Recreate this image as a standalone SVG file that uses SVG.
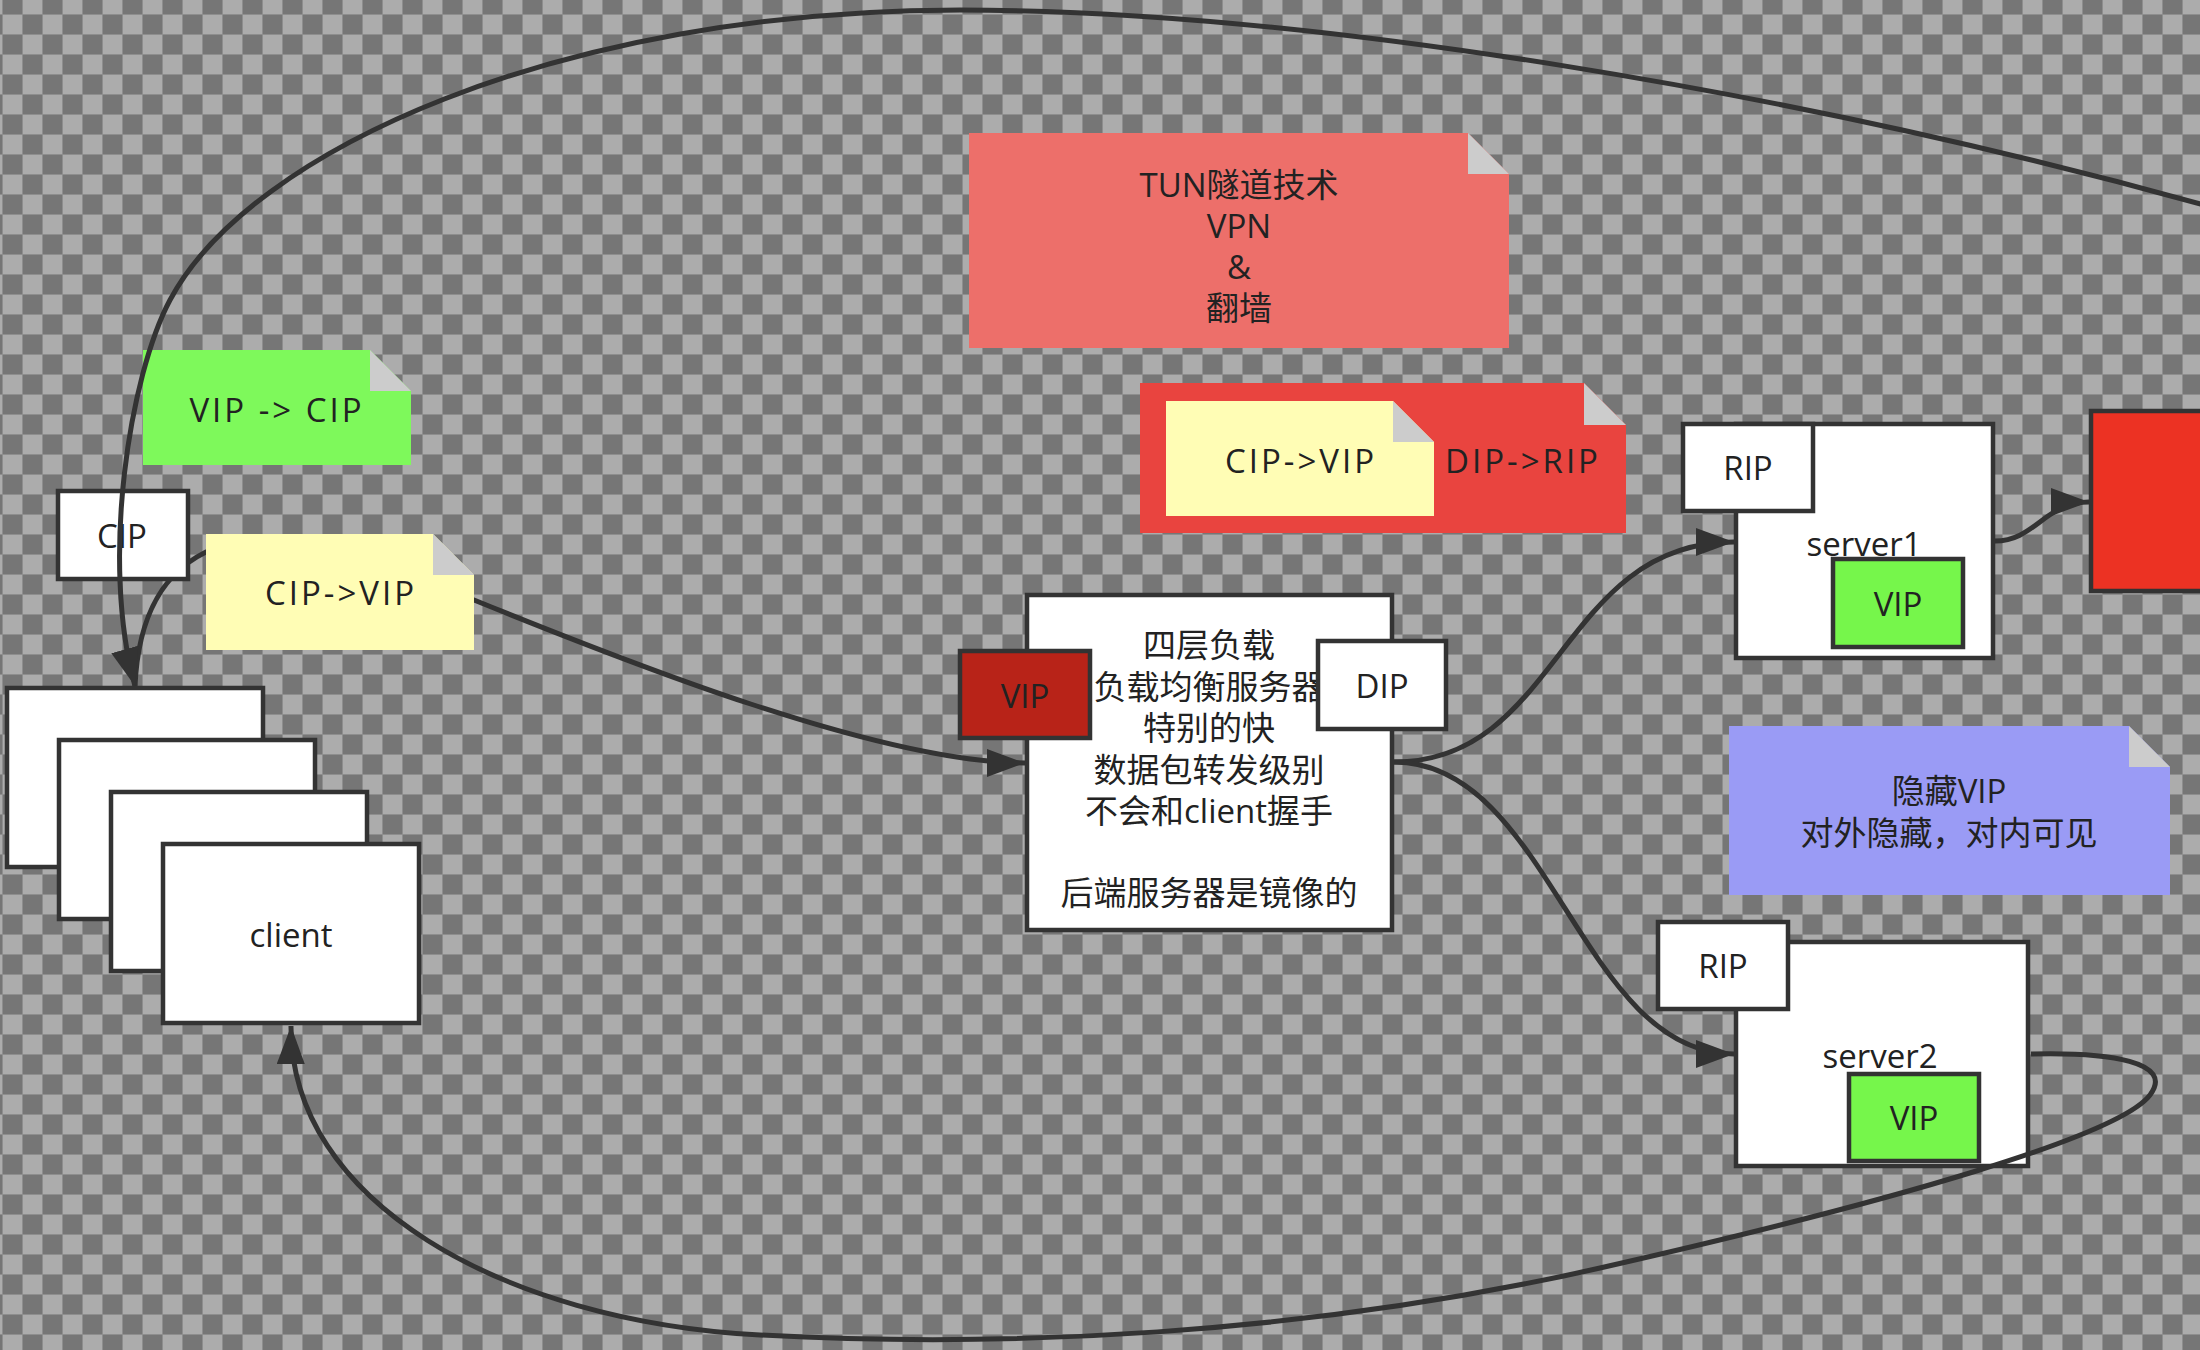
<svg xmlns="http://www.w3.org/2000/svg" width="2200" height="1350" viewBox="0 0 2200 1350">
<defs>
<pattern id="checker" patternUnits="userSpaceOnUse" x="2" y="-6" width="40" height="40">
<rect width="40" height="40" fill="#acacac"/>
<rect width="20" height="20" fill="#767676"/>
<rect x="20" y="20" width="20" height="20" fill="#767676"/>
<path d="M0,0.5 H40 M0,20.5 H40 M0.5,0 V40 M20.5,0 V40" stroke="#8e8e8e" stroke-width="1" fill="none"/>
</pattern>
<marker id="arrow" markerUnits="userSpaceOnUse" markerWidth="40" markerHeight="30" refX="38" refY="14" orient="auto">
<path d="M0,0 L38,14 L0,28 Z" fill="#333"/>
</marker>
<mask id="hideUnder" maskUnits="userSpaceOnUse" x="0" y="0" width="2200" height="1350">
<rect x="0" y="0" width="2200" height="1350" fill="#fff"/>
<rect x="56" y="489" width="134" height="92" fill="#000"/>
<rect x="206" y="534" width="268" height="116" fill="#000"/>
</mask>
<style>
.box{fill:#fff;stroke:#333;stroke-width:4.5}
.t{font-family:"Open Sans","Noto Sans CJK SC",sans-serif;font-size:33px;fill:#222;text-anchor:middle;dominant-baseline:central}
.sp{letter-spacing:3px}
.fold{fill:#cccccc}
.edge{fill:none;stroke:#333;stroke-width:5}
</style>
</defs>
<rect x="0" y="0" width="2200" height="1350" fill="url(#checker)"/>

<g id="client">
<rect class="box" x="7" y="688" width="256" height="179"/>
<rect class="box" x="59" y="740" width="256" height="179"/>
<rect class="box" x="111" y="792" width="256" height="179"/>
<rect class="box" x="163" y="844" width="256" height="179"/>
<text class="t" x="291" y="934">client</text>
</g>

<g id="cip">
<rect class="box" x="58" y="491" width="130" height="88"/>
<text class="t" x="122" y="535">CIP</text>
</g>

<g id="note-vip-cip">
<polygon points="143,350 370,350 411,391 411,465 143,465" fill="#7ef95b"/>
<polygon class="fold" points="370,350 370,391 411,391"/>
<text class="t sp" x="277" y="409">VIP -&gt; CIP</text>
</g>

<g id="note-cip-vip">
<polygon points="206,534 433,534 474,575 474,650 206,650" fill="#fffdb5"/>
<polygon class="fold" points="433,534 433,575 474,575"/>
<text class="t sp" x="341" y="592">CIP-&gt;VIP</text>
</g>

<g id="note-tun">
<polygon points="969,133 1468,133 1509,174 1509,348 969,348" fill="#ed6f6a"/>
<polygon class="fold" points="1468,133 1468,174 1509,174"/>
<text class="t" x="1239" y="184">TUN隧道技术</text>
<text class="t" x="1239" y="225">VPN</text>
<text class="t" x="1239" y="266">&amp;</text>
<text class="t" x="1239" y="307">翻墙</text>
</g>

<g id="note-dip-rip">
<polygon points="1140,383 1584,383 1626,425 1626,533 1140,533" fill="#e9443f"/>
<polygon class="fold" points="1584,383 1584,425 1626,425"/>
<polygon points="1166,401 1393,401 1434,442 1434,516 1166,516" fill="#fffdb5"/>
<polygon class="fold" points="1393,401 1393,442 1434,442"/>
<text class="t sp" x="1301" y="460">CIP-&gt;VIP</text>
<text class="t sp" x="1523" y="460">DIP-&gt;RIP</text>
</g>

<g id="lb">
<rect class="box" x="1027" y="595" width="365" height="335"/>
<text class="t" x="1209" y="644">四层负载</text>
<text class="t" x="1209" y="686">负载均衡服务器</text>
<text class="t" x="1209" y="727">特别的快</text>
<text class="t" x="1209" y="769">数据包转发级别</text>
<text class="t" x="1209" y="810">不会和client握手</text>
<text class="t" x="1209" y="892">后端服务器是镜像的</text>
<rect class="box" x="960" y="651" width="130" height="87" style="fill:#b82318"/>
<text class="t" x="1025" y="695">VIP</text>
<rect class="box" x="1318" y="641" width="128" height="88"/>
<text class="t" x="1382" y="685">DIP</text>
</g>

<g id="server1">
<rect class="box" x="1736" y="424" width="257" height="234"/>
<rect class="box" x="1683" y="424" width="130" height="87"/>
<text class="t" x="1748" y="467">RIP</text>
<text class="t" x="1864" y="543">server1</text>
<rect class="box" x="1833" y="559" width="130" height="88" style="fill:#76f64b"/>
<text class="t" x="1898" y="603">VIP</text>
</g>

<g id="server2">
<rect class="box" x="1736" y="942" width="292" height="224"/>
<rect class="box" x="1658" y="922" width="130" height="87"/>
<text class="t" x="1723" y="965">RIP</text>
<text class="t" x="1880" y="1055">server2</text>
<rect class="box" x="1849" y="1074" width="130" height="87" style="fill:#76f64b"/>
<text class="t" x="1914" y="1117">VIP</text>
</g>

<g id="note-hidden-vip">
<polygon points="1729,726 2129,726 2170,767 2170,895 1729,895" fill="#9a9bf5"/>
<polygon class="fold" points="2129,726 2129,767 2170,767"/>
<text class="t" x="1949" y="790">隐藏VIP</text>
<text class="t" x="1949" y="832">对外隐藏，对内可见</text>
</g>

<g id="red-node">
<rect class="box" x="2091" y="411" width="200" height="180" style="fill:#ec3223"/>
</g>

<g id="connectors">
<path class="edge" mask="url(#hideUnder)" marker-end="url(#arrow)" d="M135,686 C138,620 160,570 215,548 C295,516 400,570 474,600 C622,660 880,763 1025,763"/>
<path class="edge" marker-end="url(#arrow)" d="M1394,762 C1560,762 1560,542 1734,542"/>
<path class="edge" marker-end="url(#arrow)" d="M1394,762 C1550,762 1580,1054 1734,1054"/>
<path class="edge" marker-end="url(#arrow)" d="M1995,541 C2035,541 2045,502 2089,502"/>
<path class="edge" marker-end="url(#arrow)" d="M2240,215 C1800,90 1300,10 960,10 C560,10 250,150 170,300 C130,375 100,560 135,686"/>
<path class="edge" marker-end="url(#arrow)" d="M2031,1054 C2110,1052 2175,1062 2150,1095 C2120,1135 1900,1200 1600,1268 C1300,1336 1000,1348 760,1335 C500,1321 290,1200 291,1026"/>
</g>
</svg>
